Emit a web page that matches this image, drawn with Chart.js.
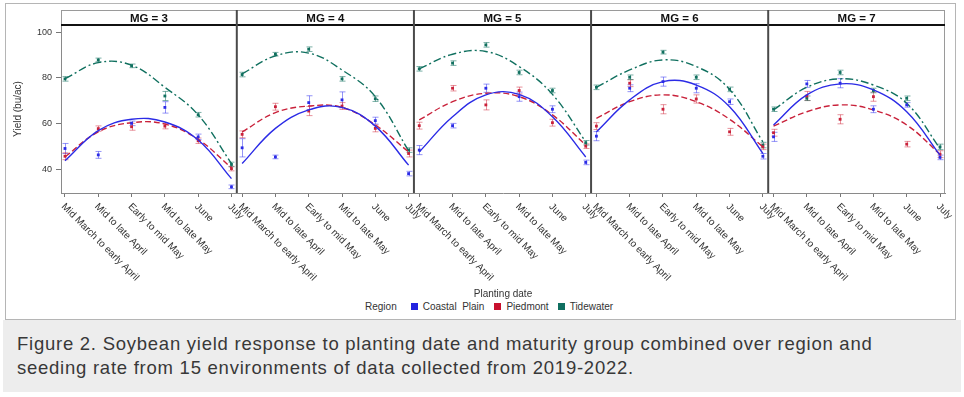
<!DOCTYPE html>
<html>
<head>
<meta charset="utf-8">
<script src="https://cdn.jsdelivr.net/npm/chart.js@4.4.0/dist/chart.umd.min.js"></script>
<style>
  body { margin: 0; background: #fff; font-family: "Liberation Sans", Arial, sans-serif; }
  #wrap { position: relative; width: 964px; height: 397px; overflow: hidden; }
  #frame { position: absolute; left: 5px; top: 3px; width: 949px; height: 315px; border: 1px solid #b5b5b5; }
  #chart { position: absolute; left: 0; top: 0; }
  #legend { position: absolute; left: 365px; top: 301px; font-size: 10px; color: #333; display: flex; align-items: center; white-space: nowrap; }
  #legend .sw { display: inline-block; width: 7px; height: 7px; margin-right: 5px; }
  #caption { position: absolute; left: 3px; top: 320px; width: 958px; height: 72px; background: #ededed; }
  #caption p { margin: 0; position: absolute; left: 14px; top: 12px; font-size: 18.5px; letter-spacing: 0.75px; line-height: 24px; color: #383838; white-space: nowrap; }
</style>
</head>
<body>
<div id="wrap">
  <div id="frame"></div>
  <canvas id="chart" width="964" height="300"></canvas>
  <div id="legend">
    <span style="margin-right:14px">Region</span>
    <span class="sw" style="background:#2323e0"></span><span style="margin-right:10px">Coastal&nbsp; Plain</span>
    <span class="sw" style="background:#c8102e"></span><span style="margin-right:9px">Piedmont</span>
    <span class="sw" style="background:#0f6f60"></span><span>Tidewater</span>
  </div>
  <div id="caption"><p>Figure 2. Soybean yield response to planting date and maturity group combined over region and<br>seeding rate from 15 environments of data collected from 2019-2022.</p></div>
</div>
<script>
// ===== Data =====
const categories = ["Mid March to early April", "Mid to late April", "Early to mid May", "Mid to late May", "June", "July"];
const groups = ["MG = 3", "MG = 4", "MG = 5", "MG = 6", "MG = 7"];
const yTicks = [40, 60, 80, 100];

// observed means, one row per maturity group
const coastalMean = [
  [49.0, 46.2, 60.0, 67.0, 54.1, 32.2],
  [49.3, 45.3, 69.1, 70.3, 61.2, 38.0],
  [48.3, 59.0, 75.4, 71.7, 66.2, 42.9],
  [54.4, 75.4, 78.3, 75.4, 69.5, 45.6],
  [54.1, 77.3, 77.6, 66.2, 68.1, 45.1]
];
const piedmontMean = [
  [45.6, 57.7, 58.5, 58.8, 52.4, 40.2],
  [55.2, 67.3, 65.4, 67.6, 57.8, 46.8],
  [59.0, 75.4, 68.1, 74.4, 60.3, 50.0],
  [58.8, 77.6, 66.2, 70.7, 56.3, 49.7],
  [55.9, 72.0, 61.8, 71.7, 50.9, 46.5]
];
const tidewaterMean = [
  [79.5, 87.8, 85.2, 72.0, 63.8, 42.0],
  [81.4, 90.3, 92.5, 79.5, 70.8, 48.3],
  [83.9, 86.4, 94.4, 82.3, 74.4, 51.5],
  [75.8, 80.2, 91.2, 80.2, 74.9, 50.5],
  [66.2, 71.0, 82.3, 74.4, 71.0, 49.7]
];

// standard error half widths
const coastalErr = [
  [2.2, 1.5, 1.0, 2.5, 1.2, 0.8],
  [4.0, 0.8, 3.0, 3.5, 1.5, 1.0],
  [2.0, 1.0, 1.8, 2.0, 1.5, 1.0],
  [2.0, 1.5, 2.0, 2.0, 1.2, 1.2],
  [2.0, 1.5, 2.0, 1.5, 1.0, 1.0]
];
const piedmontErr = [
  [1.5, 1.2, 1.5, 1.2, 1.2, 1.0],
  [1.5, 1.5, 2.0, 1.5, 1.5, 1.5],
  [1.5, 1.2, 2.2, 1.5, 1.5, 1.0],
  [1.5, 1.5, 2.0, 1.8, 1.5, 1.2],
  [1.5, 2.0, 2.0, 2.0, 1.2, 1.5]
];
const tidewaterErr = [
  [1.0, 0.8, 0.8, 2.0, 1.0, 1.0],
  [1.0, 0.8, 1.0, 1.0, 1.2, 1.0],
  [1.0, 1.0, 1.0, 1.0, 1.0, 1.0],
  [1.0, 1.0, 0.8, 1.0, 1.0, 1.2],
  [1.0, 1.0, 1.0, 1.0, 1.0, 1.2]
];

// fitted quadratic curves, read at each planting date
const coastalFit = [
  [43.6, 56.8, 61.8, 60.6, 52.7, 35.8],
  [42.4, 57.8, 65.9, 67.0, 58.8, 41.7],
  [47.5, 62.9, 72.5, 72.7, 62.9, 45.3],
  [56.3, 70.3, 78.3, 76.8, 67.3, 46.8],
  [59.3, 72.5, 77.3, 74.7, 65.1, 46.1]
];
const piedmontFit = [
  [45.3, 56.3, 60.3, 59.7, 53.0, 40.5],
  [56.3, 64.7, 67.6, 67.0, 59.3, 47.5],
  [61.5, 69.5, 73.2, 71.7, 63.7, 50.5],
  [62.2, 69.5, 72.5, 69.5, 61.8, 49.7],
  [58.8, 65.1, 68.1, 65.9, 59.3, 46.5]
];
const tidewaterFit = [
  [79.6, 86.6, 85.5, 75.8, 63.7, 42.4],
  [81.7, 89.6, 90.8, 83.4, 71.7, 48.0],
  [83.9, 90.3, 91.5, 84.9, 72.7, 51.9],
  [75.8, 83.4, 87.8, 84.9, 74.9, 51.9],
  [65.9, 75.8, 79.5, 76.8, 68.8, 49.0]
];

// ===== Layout helpers =====
const GAP = 5.32; // distance between panels on the shared x scale
const xPos = (p, i) => p * GAP + i;

const regions = [
  { name: "Coastal Plain", color: "#2b2be6", bar: "rgba(60,60,240,0.55)", mean: coastalMean, err: coastalErr, fit: coastalFit, dash: [] },
  { name: "Piedmont", color: "#c9213a", bar: "rgba(210,40,60,0.5)", mean: piedmontMean, err: piedmontErr, fit: piedmontFit, dash: [6, 3] },
  { name: "Tidewater", color: "#10705f", bar: "rgba(16,112,95,0.55)", mean: tidewaterMean, err: tidewaterErr, fit: tidewaterFit, dash: [8, 3, 2, 3] }
];

const datasets = [];
regions.forEach(function (r) {
  groups.forEach(function (g, p) {
    datasets.push({
      label: r.name + " fit " + g,
      data: r.fit[p].map((v, i) => ({ x: xPos(p, i), y: v })),
      showLine: true,
      tension: 0.4,
      pointRadius: 0,
      borderColor: r.color,
      borderWidth: 1.4,
      borderDash: r.dash
    });
    datasets.push({
      label: r.name + " " + g,
      data: r.mean[p].map((v, i) => ({ x: xPos(p, i), y: v })),
      errors: r.err[p],
      barColor: r.bar,
      pointRadius: 2,
      pointStyle: "rect",
      backgroundColor: r.color,
      borderColor: r.color,
      borderWidth: 0
    });
  });
});

const tickValues = [];
groups.forEach((g, p) => categories.forEach((c, i) => tickValues.push(xPos(p, i))));

// Panels: headers, dividers, rotated date labels, error bars
const panelPlugin = {
  id: "panels",
  beforeDatasetsDraw(chart) {
    const { ctx, scales: { x, y } } = chart;
    ctx.save();
    chart.data.datasets.forEach(function (ds) {
      if (!ds.errors) return;
      ctx.strokeStyle = ds.barColor;
      ctx.lineWidth = 1;
      ds.data.forEach(function (pt, i) {
        const px = Math.round(x.getPixelForValue(pt.x)) + 0.5;
        const top = y.getPixelForValue(pt.y + ds.errors[i]);
        const bot = y.getPixelForValue(pt.y - ds.errors[i]);
        ctx.beginPath();
        ctx.moveTo(px, top); ctx.lineTo(px, bot);
        ctx.moveTo(px - 3, top); ctx.lineTo(px + 3, top);
        ctx.moveTo(px - 3, bot); ctx.lineTo(px + 3, bot);
        ctx.stroke();
      });
    });
    ctx.restore();
  },
  afterDraw(chart) {
    const { ctx, chartArea: a, scales: { x } } = chart;
    const headTop = 10;
    ctx.save();
    // header strip
    ctx.strokeStyle = "#9a9a9a";
    ctx.lineWidth = 1;
    ctx.beginPath();
    ctx.moveTo(a.left, headTop + 0.5); ctx.lineTo(a.right, headTop + 0.5);
    ctx.moveTo(a.left + 0.5, headTop); ctx.lineTo(a.left + 0.5, a.top);
    ctx.moveTo(a.right - 0.5, headTop); ctx.lineTo(a.right - 0.5, a.bottom);
    ctx.stroke();
    ctx.strokeStyle = "#111";
    ctx.lineWidth = 2;
    ctx.beginPath();
    ctx.moveTo(a.left, a.top); ctx.lineTo(a.right, a.top);
    ctx.stroke();

    // dividers and titles
    const edges = [a.left];
    for (let p = 1; p < groups.length; p++) edges.push(x.getPixelForValue(p * GAP - 0.16));
    edges.push(a.right);
    ctx.strokeStyle = "#4a4a4a";
    ctx.lineWidth = 2;
    for (let p = 1; p < groups.length; p++) {
      ctx.beginPath();
      ctx.moveTo(edges[p], headTop); ctx.lineTo(edges[p], a.bottom);
      ctx.stroke();
    }
    ctx.fillStyle = "#111";
    ctx.font = "bold 11.5px 'Liberation Sans', Arial, sans-serif";
    ctx.textAlign = "center";
    ctx.textBaseline = "middle";
    groups.forEach(function (g, p) {
      ctx.fillText(g, (edges[p] + edges[p + 1]) / 2, (headTop + a.top) / 2 + 1);
    });

    // rotated planting date labels
    ctx.fillStyle = "#333";
    ctx.font = "10px 'Liberation Sans', Arial, sans-serif";
    ctx.textAlign = "left";
    ctx.textBaseline = "middle";
    groups.forEach(function (g, p) {
      categories.forEach(function (c, i) {
        const px = x.getPixelForValue(xPos(p, i));
        ctx.save();
        ctx.translate(px - 2, a.bottom + 12);
        ctx.rotate(Math.PI / 4);
        ctx.fillText(c, 0, 0);
        ctx.restore();
      });
    });
    ctx.restore();
  }
};

new Chart(document.getElementById("chart"), {
  type: "scatter",
  data: { datasets: datasets },
  options: {
    responsive: false,
    animation: false,
    layout: { padding: { left: 8, top: 25, right: 19, bottom: 0 } },
    plugins: { legend: { display: false }, tooltip: { enabled: false } },
    scales: {
      x: {
        type: "linear",
        min: -0.12,
        max: 4 * GAP + 5.15,
        afterBuildTicks: function (scale) {
          scale.ticks = tickValues.map(v => ({ value: v }));
        },
        afterFit: function (scale) { scale.height = 107; },
        ticks: { display: false, autoSkip: false },
        grid: { drawOnChartArea: false, tickLength: 4, color: "#777" },
        border: { color: "#8a8a8a" },
        title: { display: true, text: "Planting date", color: "#333", font: { size: 10 }, padding: 0 }
      },
      y: {
        min: 29.5,
        max: 103.1,
        afterBuildTicks: function (scale) {
          scale.ticks = yTicks.map(v => ({ value: v }));
        },
        afterFit: function (scale) { scale.width = 53; },
        ticks: { color: "#333", font: { size: 9 }, padding: 4 },
        grid: { drawOnChartArea: false, tickLength: 5, color: "#777" },
        border: { color: "#8a8a8a" },
        title: { display: true, text: "Yield (bu/ac)", color: "#333", font: { size: 10 }, padding: { top: 4, bottom: 0 } }
      }
    }
  },
  plugins: [panelPlugin]
});
</script>
</body>
</html>
